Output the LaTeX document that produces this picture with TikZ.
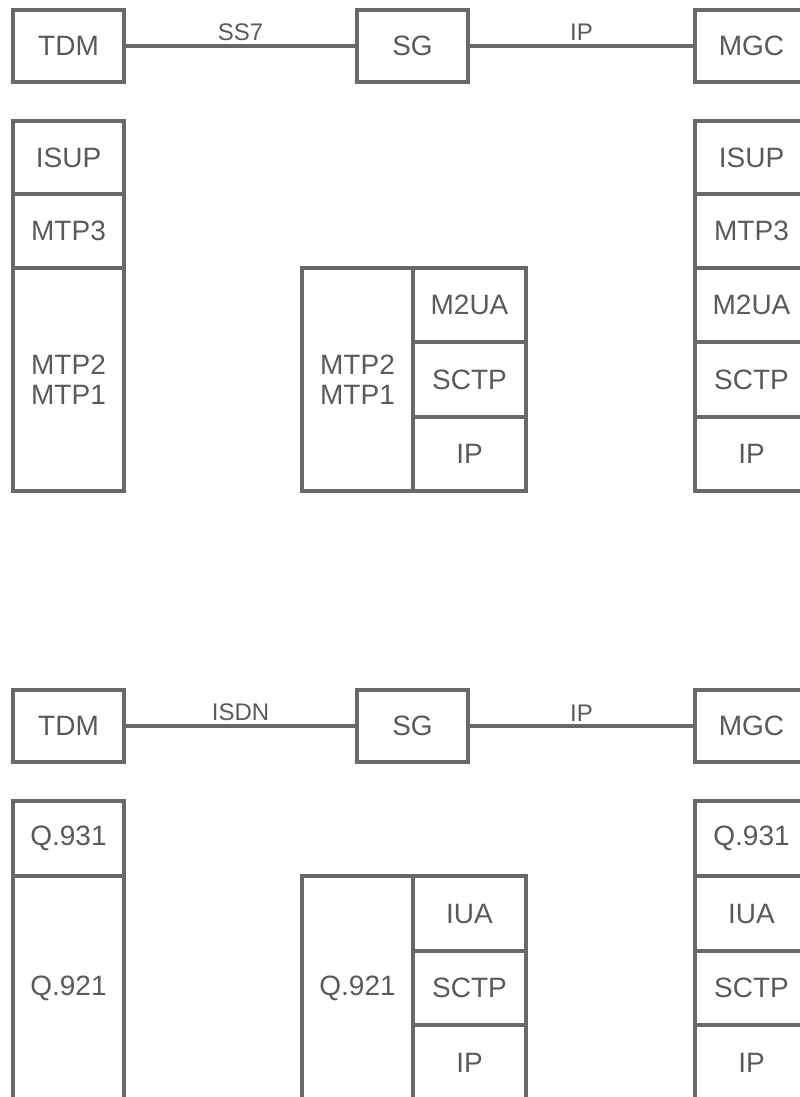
\documentclass[tikz,border=0pt]{standalone}
\usepackage{fontspec}
\setmainfont{Liberation Sans}
\definecolor{linegray}{HTML}{686868}
\definecolor{textgray}{HTML}{5A5A5A}
\begin{document}
\begin{tikzpicture}[x=1pt,y=-1pt,
  layer/.style={draw=linegray, line width=4pt, inner sep=0pt, outer sep=0pt,
    text=textgray, align=center, font=\fontsize{28}{30}\selectfont},
  narrow/.style={layer, minimum width=111pt},
  wide/.style={layer, minimum width=113pt},
  conn/.style={draw=linegray, line width=4pt},
  lbl/.style={above, inner sep=3pt, text=textgray, font=\fontsize{24}{26}\selectfont}]
\path[use as bounding box] (0,0) rectangle (800,1097);
\clip (0,0) rectangle (800,1097);

% ---------- upper half ----------
\node[narrow, minimum height=72pt] (tdmA) at (68.5,46) {TDM};
\node[narrow, minimum height=72pt] (sgA) at (412.5,46) {SG};
\node[wide, minimum height=72pt] (mgcA) at (751.5,46) {MGC};
\draw[conn] (tdmA) -- node[lbl] (ss7) {SS7} (sgA);
\draw[conn] (sgA) -- node[lbl] (ipA) {IP} (mgcA);

\node[narrow, minimum height=73pt] (isupL) at (68.5,157.5) {ISUP};
\node[narrow, minimum height=74pt] (mtp3L) at (68.5,231) {MTP3};
\node[narrow, minimum height=223pt] (mtpL) at (68.5,379.5) {MTP2\\MTP1};

\node[narrow, minimum height=223pt] (mtpM) at (357.5,379.5) {MTP2\\MTP1};
\node[wide, minimum height=74pt] (m2uaM) at (469.5,305) {M2UA};
\node[wide, minimum height=75pt] (sctpM) at (469.5,379.5) {SCTP};
\node[wide, minimum height=74pt] (ipM) at (469.5,454) {IP};

\node[wide, minimum height=73pt] (isupR) at (751.5,157.5) {ISUP};
\node[wide, minimum height=74pt] (mtp3R) at (751.5,231) {MTP3};
\node[wide, minimum height=74pt] (m2uaR) at (751.5,305) {M2UA};
\node[wide, minimum height=75pt] (sctpR) at (751.5,379.5) {SCTP};
\node[wide, minimum height=74pt] (ipR) at (751.5,454) {IP};

% ---------- lower half ----------
\node[narrow, minimum height=72pt] (tdmB) at (68.5,726) {TDM};
\node[narrow, minimum height=72pt] (sgB) at (412.5,726) {SG};
\node[wide, minimum height=72pt] (mgcB) at (751.5,726) {MGC};
\draw[conn] (tdmB) -- node[lbl] (isdn) {ISDN} (sgB);
\draw[conn] (sgB) -- node[lbl] (ipB) {IP} (mgcB);

\node[narrow, minimum height=75pt] (q931L) at (68.5,838.5) {Q.931};
\node[narrow, minimum height=224pt] (q921L) at (68.5,988) {Q.921};

\node[narrow, minimum height=224pt] (q921M) at (357.5,988) {Q.921};
\node[wide, minimum height=75pt] (iuaM) at (469.5,913.5) {IUA};
\node[wide, minimum height=74pt] (sctpMB) at (469.5,988) {SCTP};
\node[wide, minimum height=75pt] (ipMB) at (469.5,1062.5) {IP};

\node[wide, minimum height=75pt] (q931R) at (751.5,838.5) {Q.931};
\node[wide, minimum height=75pt] (iuaR) at (751.5,913.5) {IUA};
\node[wide, minimum height=74pt] (sctpRB) at (751.5,988) {SCTP};
\node[wide, minimum height=75pt] (ipRB) at (751.5,1062.5) {IP};
\end{tikzpicture}
\end{document}
